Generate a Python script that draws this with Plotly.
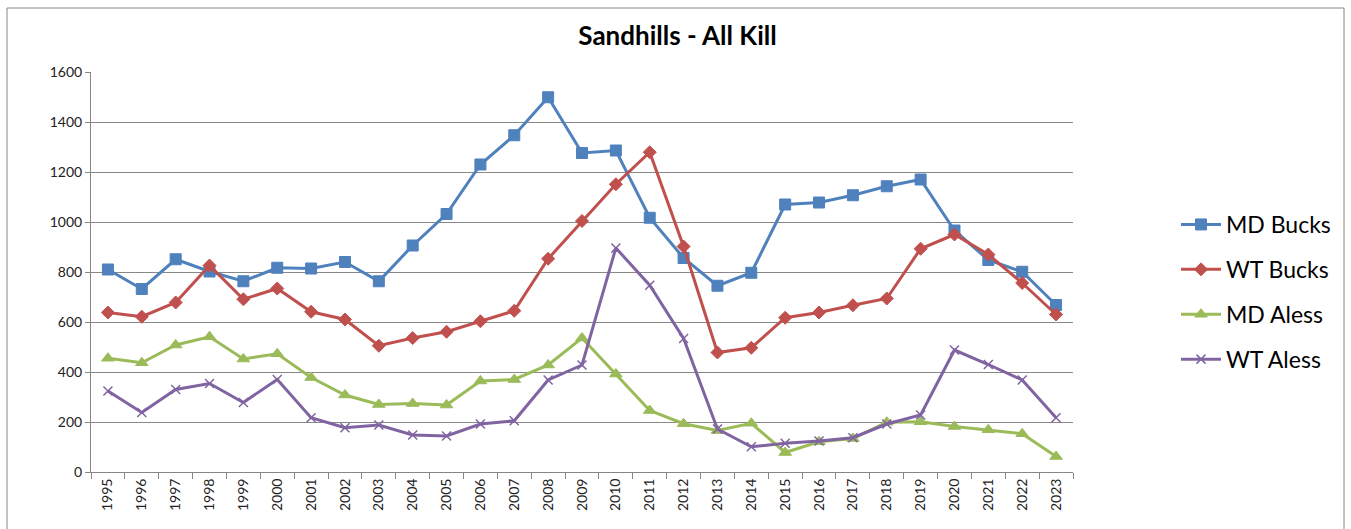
import plotly.graph_objects as go

years = [str(y) for y in range(1995, 2024)]
md_bucks = [810, 732, 851, 802, 763, 817, 814, 840, 763, 906, 1032, 1230, 1347, 1499, 1276, 1286, 1017, 856, 745, 797,
            1070, 1078, 1107, 1143, 1170, 966, 848, 801, 668]
wt_bucks = [638, 621, 678, 826, 691, 734, 641, 610, 505, 536, 561, 603, 645, 853, 1004, 1151, 1279, 902, 478, 497,
            617, 638, 667, 694, 893, 950, 870, 756, 630]
md_aless = [455, 437, 508, 541, 452, 473, 378, 308, 270, 274, 268, 364, 370, 428, 536, 392, 246, 193, 166, 195,
            78, 121, 134, 199, 201, 182, 169, 153, 62]
wt_aless = [324, 238, 330, 354, 278, 370, 217, 177, 188, 148, 144, 192, 205, 368, 428, 896, 747, 534, 172, 101,
            115, 124, 137, 192, 228, 488, 430, 368, 217]
yticks = [0, 200, 400, 600, 800, 1000, 1200, 1400, 1600]

series = [
    ("MD Bucks", md_bucks, "#4F81BD", "square", 11, 1),
    ("WT Bucks", wt_bucks, "#C0504D", "diamond", 10, 1),
    ("MD Aless", md_aless, "#9BBB59", "triangle-up", 11, 1),
    ("WT Aless", wt_aless, "#8064A2", "x-thin", 9, 1.5),
]

fig = go.Figure()
for i, (name, vals, col, sym, size, lw) in enumerate(series):
    fig.add_trace(go.Scatter(
        x=years, y=vals, name=name, mode="lines+markers", legendgroup=f"g{i}",
        line=dict(color=col, width=3),
        marker=dict(symbol=sym, size=size, color=col, line=dict(color=col, width=lw)),
    ))

L, R, T, B = 91, 278, 72, 57
pw, ph = 1351 - L - R, 529 - T - B

fig.update_layout(
    width=1351, height=529,
    margin=dict(l=L, r=R, t=T, b=B),
    paper_bgcolor="white", plot_bgcolor="white",
    font=dict(family="Lato, Carlito, Arial", color="black"),
    title=dict(text="<b>Sandhills - All Kill</b>", x=(677.5) / 1351, xanchor="center", xref="container",
               y=(529 - 36) / 529, yanchor="middle", font=dict(size=26, color="black")),
    showlegend=True,
    legend=dict(x=(1176 - L) / pw, xanchor="left", y=(472 - 292) / ph, yanchor="middle",
                traceorder="grouped", tracegroupgap=12, font=dict(size=23, color="black"),
                bgcolor="rgba(0,0,0,0)", itemwidth=40),
    xaxis=dict(type="category", tickangle=-90, tickfont=dict(size=14, family="Lato", color="#222"),
               showgrid=False, showline=True, linecolor="#868686", linewidth=1,
               ticks="outside", ticklen=6, tickcolor="#868686", tickson="boundaries",
               range=[-0.5, len(years) - 0.5]),
    yaxis=dict(range=[0, 1600], tickvals=yticks, tickfont=dict(size=14, family="Lato", color="#222"),
               showgrid=True, gridcolor="#888888", gridwidth=1,
               showline=True, linecolor="#868686", linewidth=1,
               ticks="outside", ticklen=5, tickcolor="#868686", zeroline=False),
    shapes=[dict(type="rect", xref="paper", yref="paper",
                 x0=(7 - L) / pw, x1=(1344 - L) / pw, y0=(472 - 545) / ph, y1=(472 - 8) / ph,
                 line=dict(color="#868686", width=1), fillcolor="rgba(0,0,0,0)", layer="below")],
)

fig.write_html("out.html", config={"displayModeBar": False},
               post_script="document.body.style.margin='0';document.body.style.overflow='hidden';")
